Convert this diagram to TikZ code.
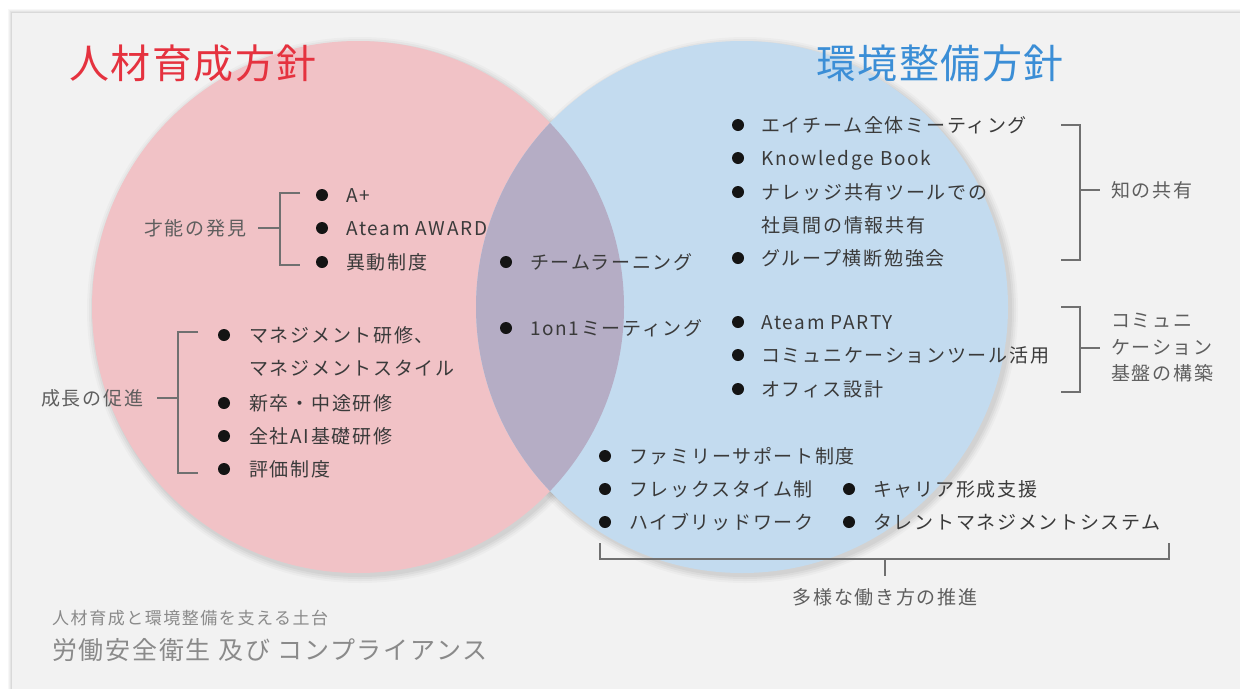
\documentclass[tikz,border=0pt]{standalone}
\usepackage{fontspec}
\setmainfont{Noto Sans CJK JP}
\newfontfamily\jpsp[LetterSpace=9]{Noto Sans CJK JP}
\newfontfamily\jptt[LetterSpace=4]{Noto Sans CJK JP}
\newfontfamily\jpft[LetterSpace=7]{Noto Sans CJK JP}
\definecolor{panelc}{HTML}{F2F2F2}
\definecolor{pinkc}{HTML}{F1C2C6}
\definecolor{bluec}{HTML}{C3DBEF}
\definecolor{overc}{HTML}{B5ADC5}
\definecolor{redt}{HTML}{E5323F}
\definecolor{bluet}{HTML}{3B8ED6}
\definecolor{txtc}{HTML}{3A3A3A}
\definecolor{lblc}{HTML}{5E5E5E}
\definecolor{footc}{HTML}{8A8A8A}
\definecolor{brc}{HTML}{707070}
\definecolor{bulc}{HTML}{141414}
\begin{document}
\begin{tikzpicture}[x=1pt,y=-1pt,
  bul/.style={circle, fill=bulc, inner sep=0pt, minimum size=12pt},
  itm/.style={anchor=west, inner sep=0pt, text=txtc, font=\jpsp\fontsize{19}{23}\selectfont, text height=16.7pt, text depth=2.3pt},
  lbl/.style={itm, text=lblc},
  ttl/.style={inner sep=0pt, font=\jptt\fontsize{40}{46}\selectfont},
  brk/.style={draw=brc, line width=1.4pt},
  foot/.style={anchor=west, inner sep=0pt, text=footc}
]
\useasboundingbox (0,0) rectangle (1240,689);
\fill[white] (0,0) rectangle (1240,689);
% panel with soft shadow
\foreach \i/\o in {4/0.03,3/0.03,2/0.04,1/0.05}{
  \fill[black,opacity=\o] (12-\i,13-\i) rectangle (1240,689);
}
\fill[panelc] (12,13) rectangle (1240,689);

% circle shadows
\foreach \i/\o in {7/0.025,5/0.03,3/0.035,1/0.04}{
  \fill[black,opacity=\o] (360,310) ellipse ({266+\i} and {266+\i});
  \fill[black,opacity=\o] (745,310) ellipse ({266+\i} and {266+\i});
}
% circles
\fill[pinkc] (358,307) circle (266);
\fill[bluec] (742,307) circle (266);
\begin{scope}
  \clip (358,307) circle (266);
  \fill[overc] (742,307) circle (266);
\end{scope}

% titles
\node[ttl, text=redt] (t1) at (193,63) {人材育成方針};
\node[ttl, text=bluet] (t2) at (940,63) {環境整備方針};

% ---------- 才能の発見 ----------
\node[lbl] (L1) at (144,228) {才能の発見};
\coordinate (L1a) at (280,228);
\coordinate (L1t) at (280,193);
\coordinate (L1b) at (280,265);
\node[bul] (b11) at (322,195) {};
\node[bul] (b12) at (322,228) {};
\node[bul] (b13) at (322,262) {};
\node[itm] (i11) at (346,195) {A+};
\node[itm] (i12) at (346,228) {Ateam AWARD};
\node[itm] (i13) at (346,262) {異動制度};
\draw[brk] ([xshift=12pt]L1.east) -- (L1a);
\draw[brk] (300,193) -- (L1t) -- (L1b) -- (300,265);

% ---------- 成長の促進 ----------
\node[lbl] (L2) at (41,398) {成長の促進};
\coordinate (L2a) at (178,398);
\coordinate (L2t) at (178,332);
\coordinate (L2b) at (178,473);
\node[bul] (b21) at (224,335) {};
\node[bul] (b23) at (224,403) {};
\node[bul] (b24) at (224,436) {};
\node[bul] (b25) at (224,469) {};
\node[itm] (i21) at (249,335) {マネジメント研修、};
\node[itm] (i22) at (249,368) {マネジメントスタイル};
\node[itm] (i23) at (249,403) {新卒・中途研修};
\node[itm] (i24) at (249,436) {全社AI基礎研修};
\node[itm] (i25) at (249,469) {評価制度};
\draw[brk] ([xshift=14pt]L2.east) -- (L2a);
\draw[brk] (198,332) -- (L2t) -- (L2b) -- (198,473);

% ---------- overlap ----------
\node[bul] (b31) at (506,262) {};
\node[bul] (b32) at (506,328) {};
\node[itm] (i31) at (530,262) {チームラーニング};
\node[itm] (i32) at (530,328) {1on1ミーティング};

% ---------- 知の共有 ----------
\node[bul] (b41) at (738,125) {};
\node[bul] (b42) at (738,158) {};
\node[bul] (b43) at (738,192) {};
\node[bul] (b45) at (738,258) {};
\node[itm] (i41) at (761,125) {エイチーム全体ミーティング};
\node[itm] (i42) at (761,158) {Knowledge Book};
\node[itm] (i43) at (761,192) {ナレッジ共有ツールでの};
\node[itm] (i44) at (761,225) {社員間の情報共有};
\node[itm] (i45) at (761,258) {グループ横断勉強会};
\node[lbl] (R1) at (1111,190) {知の共有};
\coordinate (R1t) at (1080,125);
\coordinate (R1b) at (1080,260);
\coordinate (R1m) at (1080,190);
\draw[brk] (1061,125) -- (R1t) -- (R1b) -- (1061,260);
\draw[brk] (R1m) -- ([xshift=-11pt]R1.west);

% ---------- コミュニケーション基盤の構築 ----------
\node[bul] (b51) at (738,322) {};
\node[bul] (b52) at (738,355) {};
\node[bul] (b53) at (738,389) {};
\node[itm] (i51) at (761,322) {Ateam PARTY};
\node[itm] (i52) at (761,355) {コミュニケーションツール活用};
\node[itm] (i53) at (761,389) {オフィス設計};
\node[lbl, align=left, font=\jpsp\fontsize{19}{26.5}\selectfont, text height=, text depth=] (R2) at (1111,348) {コミュニ\\ケーション\\基盤の構築};
\coordinate (R2t) at (1080,307);
\coordinate (R2b) at (1080,392);
\coordinate (R2m) at (1080,348);
\draw[brk] (1061,307) -- (R2t) -- (R2b) -- (1061,392);
\draw[brk] (R2m) -- ([xshift=-11pt]R2.west);

% ---------- 多様な働き方の推進 ----------
\node[bul] (b61) at (605,456) {};
\node[bul] (b62) at (605,489) {};
\node[bul] (b63) at (605,522) {};
\node[bul] (b64) at (849,489) {};
\node[bul] (b65) at (849,522) {};
\node[itm] (i61) at (629,456) {ファミリーサポート制度};
\node[itm] (i62) at (629,489) {フレックスタイム制};
\node[itm] (i63) at (629,522) {ハイブリッドワーク};
\node[itm] (i64) at (873,489) {キャリア形成支援};
\node[itm] (i65) at (873,522) {タレントマネジメントシステム};
\node[lbl, anchor=center] (B1) at (885,597) {多様な働き方の推進};
\coordinate (B1m) at (885,559);
\draw[brk] (600,543) -- (600,559) -- (1169,559) -- (1169,543);
\draw[brk] (B1m) -- (885,576);

% ---------- footer ----------
\node[foot, font=\jpsp\fontsize{17}{20}\selectfont] (F1) at (52,618) {人材育成と環境整備を支える土台};
\node[foot, font=\jpft\fontsize{25}{30}\selectfont] (F2) at (52,650) {労働安全衛生 及び コンプライアンス};
\end{tikzpicture}
\end{document}
